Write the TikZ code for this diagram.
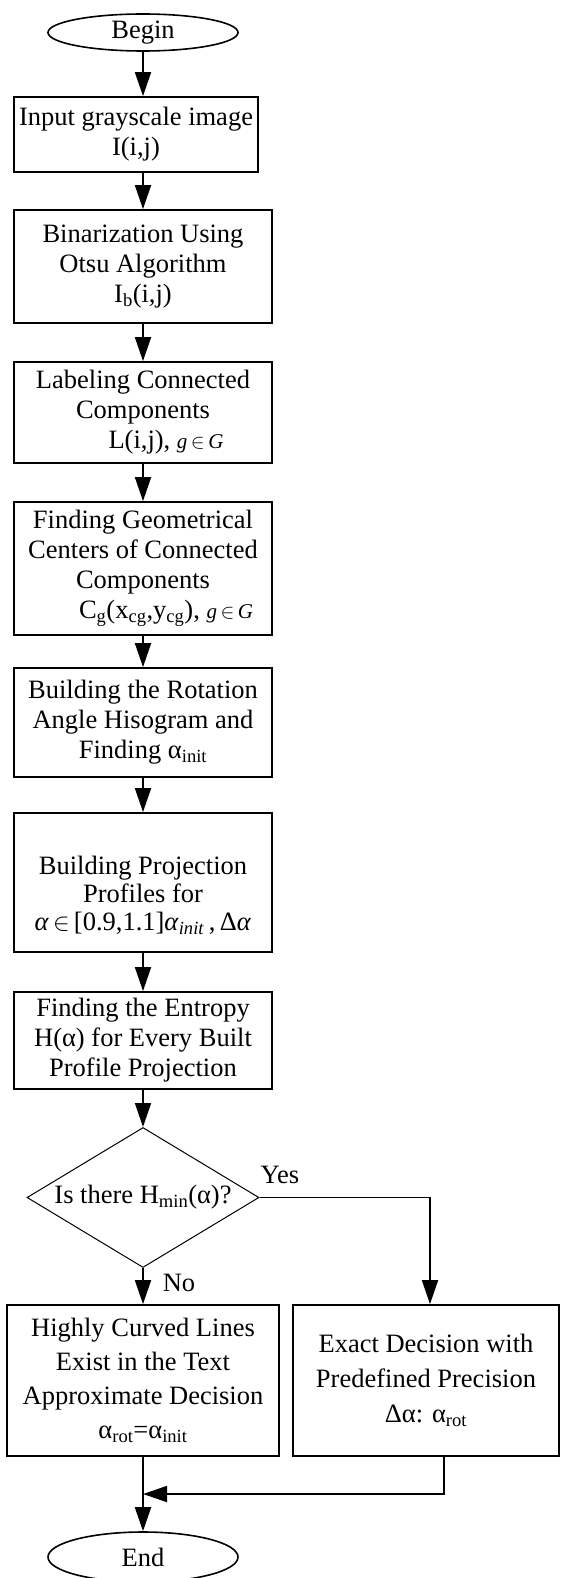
\documentclass[tikz,border=0pt]{standalone}
\usepackage{fontspec}
\setmainfont{Liberation Serif}
\usetikzlibrary{shapes.geometric,arrows.meta}
\newcommand\mygin{{\fontsize{21}{21}\selectfont\textit{g}\,$\in$\,\textit{G}}}
\begin{document}
\begin{tikzpicture}[x=1pt,y=-1pt,
  txt/.style={font=\fontsize{26.5}{30}\selectfont},
  box/.style={txt,draw,line width=1.8pt,rectangle,inner sep=0pt,align=center},
  term/.style={txt,draw,line width=1.6pt,ellipse,inner sep=0pt,minimum width=190pt},
  dec/.style={txt,draw,line width=1pt,diamond,aspect=1.66,inner sep=0pt,minimum width=232pt,minimum height=140pt},
  arr/.style={line width=1.8pt,-{Triangle[length=24pt,width=16pt]}}]
\useasboundingbox (0,0) rectangle (561,1578);

\node[term,minimum height=37pt] (begin) at (143,32.5) {Begin};
\node[box,minimum width=244pt,minimum height=75pt] (b1) at (136,134.5) {Input grayscale image\\I(i,j)};
\node[box,minimum width=258pt,minimum height=113pt] (b2) at (143,266.5) {Binarization Using\\Otsu Algorithm\\I\textsubscript{b}(i,j)};
\node[box,minimum width=258pt,minimum height=101pt] (b3) at (143,412.5) {Labeling Connected\\Components\\\hspace*{46pt}L(i,j), \mygin};
\node[box,minimum width=258pt,minimum height=133pt] (b4) at (143,568.5) {Finding Geometrical\\Centers of Connected\\Components\\\hspace*{46pt}C\textsubscript{g}(x\textsubscript{cg},y\textsubscript{cg}), \mygin};
\node[box,minimum width=258pt,minimum height=109pt] (b5) at (143,722.5) {Building the Rotation\\Angle Hisogram and\\Finding α\textsubscript{init}};
\node[box,minimum width=258pt,minimum height=139pt,font=\fontsize{26.5}{28}\selectfont] (b6) at (143,882.5) {\rule{0pt}{44pt}Building Projection\\Profiles for\\\textit{α}$\,\in\,$[0.9,1.1]\textit{α}\textsubscript{\textit{init}}\,,\,Δ\textit{α}};
\node[box,minimum width=258pt,minimum height=97pt] (b7) at (143,1040.5) {Finding the Entropy\\H(α) for Every Built\\Profile Projection};
\node[dec] (d) at (143,1197.5) {Is there H\textsubscript{min}(α)?};
\node[box,minimum width=272pt,minimum height=151pt,font=\fontsize{26.5}{34}\selectfont] (b8) at (143,1380.5) {Highly Curved Lines\\Exist in the Text\\Approximate Decision\\α\textsubscript{rot}=α\textsubscript{init}};
\node[box,minimum width=266pt,minimum height=151pt,font=\fontsize{26.5}{35}\selectfont] (b9) at (426,1380.5) {Exact Decision with\\Predefined Precision\\Δα: α\textsubscript{rot}};
\node[term,minimum height=50pt] (end) at (143,1557) {End};
\coordinate (j) at (143,1494);

\node[txt] (yes) at (280,1175) {Yes};
\node[txt] (no) at (179,1283) {No};

\draw[arr] (begin.south) -- (begin.south |- b1.north);
\draw[arr] (b2.north |- b1.south) -- (b2.north);
\draw[arr] (b2) -- (b3);
\draw[arr] (b3) -- (b4);
\draw[arr] (b4) -- (b5);
\draw[arr] (b5) -- (b6);
\draw[arr] (b6) -- (b7);
\draw[arr] (b7) -- (d);
\draw[arr] (d) -- (b8);
\draw[arr] (d.east) -| ([xshift=4pt]b9.north);
\draw[line width=1.8pt] (b8) -- (j);
\draw[arr] (j) -- (end);
\draw[arr] ([xshift=18pt]b9.south) |- (j);
\end{tikzpicture}
\end{document}
